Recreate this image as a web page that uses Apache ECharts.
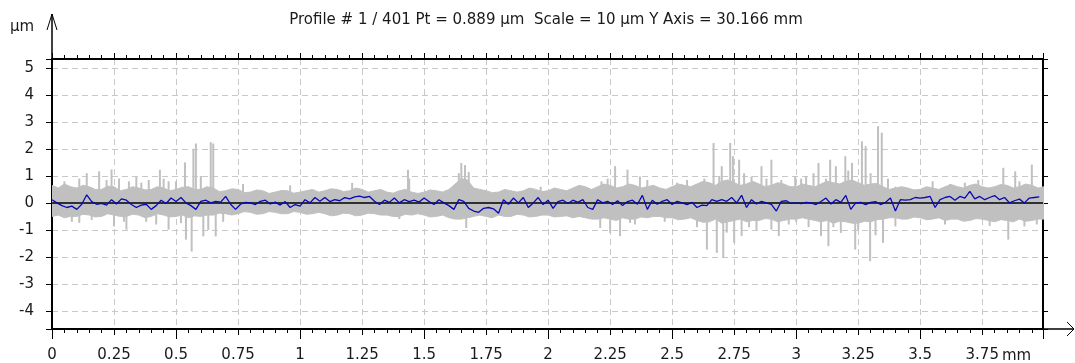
<!DOCTYPE html>
<html><head><meta charset="utf-8">
<script src="https://cdn.jsdelivr.net/npm/echarts@6/dist/echarts.min.js"></script>
<style>html,body{margin:0;padding:0;background:#fff}#c{width:1075px;height:363px}</style>
</head><body><div id="c"></div>
<script>
// ---------- texts ----------
const titleText = 'Profile # 1 / 401 Pt = 0.889 µm  Scale = 10 µm Y Axis = 30.166 mm';
const xUnit = 'mm';
const yUnit = 'µm';
// ---------- axes ----------
const xMin = 0, xMax = 3.995, xStep = 0.25;
const yMin = -4.67, yMax = 5.33;
const xTickLabels = ['0','0.25','0.5','0.75','1','1.25','1.5','1.75','2','2.25','2.5','2.75','3','3.25','3.5','3.75'];
const yTickLabels = ['-4','-3','-2','-1','0','1','2','3','4','5'];
// ---------- grey band of all 401 profiles (envelope, every 0.025 mm) ----------
const bandStep = 0.025;
const bandUpper = [
  0.65,0.55,0.7,0.6,0.55,0.65,0.6,0.5,
  0.5,0.62,0.6,0.45,0.5,0.6,0.55,0.48,
  0.5,0.6,0.55,0.45,0.5,0.58,0.6,0.5,
  0.5,0.6,0.55,0.42,0.45,0.52,0.5,0.38,
  0.4,0.48,0.45,0.35,0.4,0.46,0.45,0.36,
  0.4,0.45,0.5,0.4,0.45,0.52,0.5,0.42,
  0.45,0.55,0.5,0.4,0.45,0.5,0.4,0.36,
  0.45,0.5,0.4,0.35,0.4,0.48,0.45,0.4,
  0.5,0.7,0.9,0.85,0.55,0.5,0.45,0.38,
  0.4,0.5,0.45,0.4,0.45,0.55,0.5,0.42,
  0.45,0.55,0.5,0.45,0.55,0.65,0.6,0.5,
  0.6,0.7,0.65,0.55,0.6,0.7,0.65,0.55,
  0.6,0.65,0.55,0.5,0.6,0.7,0.65,0.6,
  0.7,0.8,0.75,0.65,0.8,0.85,0.75,0.65,
  0.7,0.8,0.7,0.6,0.65,0.75,0.7,0.6,
  0.6,0.7,0.65,0.6,0.7,0.8,0.75,0.7,
  0.8,0.85,0.75,0.65,0.7,0.72,0.6,0.5,
  0.55,0.6,0.55,0.48,0.5,0.6,0.55,0.5,
  0.6,0.68,0.6,0.55,0.65,0.7,0.6,0.55,
  0.6,0.68,0.65,0.55,0.6,0.7,0.65,0.55,
  0.6];
const bandLower = [
  -0.5,-0.45,-0.55,-0.5,-0.5,-0.42,-0.45,-0.52,
  -0.5,-0.4,-0.45,-0.5,-0.5,-0.42,-0.45,-0.55,
  -0.5,-0.4,-0.45,-0.52,-0.5,-0.45,-0.55,-0.48,
  -0.5,-0.45,-0.45,-0.38,-0.4,-0.45,-0.4,-0.32,
  -0.35,-0.42,-0.4,-0.32,-0.35,-0.4,-0.4,-0.32,
  -0.35,-0.42,-0.4,-0.35,-0.4,-0.48,-0.45,-0.38,
  -0.4,-0.48,-0.45,-0.38,-0.4,-0.45,-0.45,-0.5,
  -0.5,-0.42,-0.45,-0.4,-0.45,-0.52,-0.5,-0.45,
  -0.55,-0.6,-0.6,-0.55,-0.5,-0.45,-0.5,-0.55,
  -0.45,-0.5,-0.5,-0.42,-0.45,-0.52,-0.5,-0.45,
  -0.45,-0.52,-0.5,-0.48,-0.55,-0.5,-0.55,-0.6,
  -0.6,-0.55,-0.6,-0.65,-0.55,-0.6,-0.6,-0.52,
  -0.55,-0.5,-0.5,-0.55,-0.55,-0.62,-0.6,-0.55,
  -0.65,-0.72,-0.7,-0.6,-0.75,-0.7,-0.65,-0.6,
  -0.7,-0.65,-0.65,-0.58,-0.6,-0.7,-0.65,-0.6,
  -0.6,-0.55,-0.6,-0.65,-0.7,-0.65,-0.75,-0.68,
  -0.7,-0.75,-0.75,-0.68,-0.7,-0.62,-0.6,-0.55,
  -0.55,-0.6,-0.6,-0.52,-0.55,-0.62,-0.6,-0.55,
  -0.65,-0.6,-0.6,-0.68,-0.65,-0.58,-0.6,-0.65,
  -0.7,-0.62,-0.65,-0.7,-0.6,-0.68,-0.65,-0.6,
  -0.6];
// ---------- grey spikes (x in mm, height in µm) ----------
const spikeX = [0.11,0.11,0.14,0.16,0.19,0.24,0.25,0.27,0.30,0.31,0.34,0.38,0.39,0.435,0.47,0.47,0.50,0.536,0.54,0.563,
  0.57,0.58,0.61,0.63,0.64,0.65,0.66,0.77,0.96,1.21,1.40,1.435,1.44,1.64,1.65,1.665,1.67,1.68,1.97,2.21,
  2.215,2.25,2.27,2.29,2.32,2.33,2.37,2.43,2.47,2.55,2.56,2.63,2.64,2.667,2.68,2.70,2.706,2.734,2.745,2.75,
  2.77,2.78,2.82,2.84,2.86,2.90,2.90,2.93,2.94,2.996,3.0,3.04,3.05,3.09,3.10,3.13,3.137,3.16,3.18,3.198,
  3.225,3.238,3.265,3.28,3.298,3.33,3.345,3.35,3.40,3.40,3.60,3.62,3.734,3.835,3.855,3.883,3.92,3.95];
const spikeY = [0.9,-0.74,1.1,-0.63,1.17,1.24,-0.87,0.9,-0.99,0.8,0.96,-0.7,0.85,1.23,0.8,-0.99,0.8,1.5,-1.36,-1.8,
  2.0,2.2,-1.24,-1.0,2.25,2.2,-1.24,0.7,0.65,0.74,-0.6,1.23,0.9,1.1,1.48,1.4,-0.93,1.15,0.6,-0.93,
  0.8,-1.11,1.36,-1.23,1.23,-0.74,0.98,0.6,-0.7,-0.6,0.85,0.9,-1.73,2.22,-1.85,1.36,-2.04,2.22,1.73,-1.48,
  1.6,-1.23,0.98,-1.0,1.36,1.6,-0.99,-1.23,0.85,0.98,-0.7,1.0,-0.9,1.48,-1.23,-1.6,1.6,1.36,-1.11,1.73,
  1.48,-1.73,2.28,2.1,-2.16,2.84,2.6,-1.48,0.6,-0.87,-0.8,0.7,0.85,1.3,-1.36,1.17,-0.87,1.42];
// smaller spikes poking out of the band
const minorSpikeX = [0.05,0.08,0.22,0.29,0.36,0.42,0.45,0.52,0.60,0.69,2.24,2.35,2.40,2.52,2.60,2.69,2.72,2.79,2.81,2.88,
  2.97,3.02,3.07,3.12,3.15,3.21,3.25,3.30,3.32,3.37,3.55,3.68,3.78,3.90,3.97];
const minorSpikeY = [0.8,-0.7,0.85,-0.7,0.75,-0.8,0.9,-0.75,1.0,-0.7,0.9,-0.8,0.85,0.75,-0.9,1.0,-1.1,1.1,-0.9,0.9,
  -0.8,0.9,1.1,0.9,-0.9,1.2,-1.0,1.1,-1.2,0.9,0.8,0.75,-0.85,0.8,-0.8];
// ---------- profile #1 (blue), every 0.02 mm ----------
const profileStep = 0.02;
const profile1 = [
  0.12,0.0,-0.1,-0.17,-0.12,  -0.24,-0.05,0.3,0.05,-0.05,  -0.02,-0.08,0.12,-0.04,0.15,  0.1,-0.06,-0.17,-0.08,-0.05,
  -0.24,-0.1,0.1,-0.02,0.18,  0.05,0.2,0.0,-0.1,-0.24,  0.06,0.1,0.0,0.06,0.03,  0.24,-0.05,-0.24,-0.05,0.02,
  0.0,-0.06,0.06,0.1,-0.04,  0.03,-0.08,0.05,-0.17,-0.06,  -0.12,0.12,0.0,0.2,0.06,  0.2,0.05,0.12,0.08,0.2,
  0.15,0.22,0.25,0.2,0.24,  0.06,-0.06,0.1,0.02,0.18,  0.0,0.12,0.05,0.1,0.03,  0.18,0.05,-0.06,0.12,0.0,
  -0.1,-0.24,0.12,0.06,-0.2,  -0.3,-0.35,-0.2,-0.17,-0.22,  -0.38,0.12,-0.05,0.18,0.0,  0.2,-0.17,0.0,0.2,-0.06,
  0.1,-0.2,0.05,0.1,-0.02,  0.1,0.02,0.12,-0.17,-0.24,  0.12,0.0,0.06,-0.06,0.08,  -0.1,0.05,0.1,-0.05,0.28,
  -0.24,0.1,-0.05,0.06,0.12,  -0.06,0.06,0.0,-0.06,0.02,  -0.17,-0.08,-0.1,0.12,0.06,  0.12,0.06,0.2,0.0,0.28,
  -0.17,0.12,-0.04,0.06,0.0,  -0.05,-0.3,0.06,0.08,-0.02,  0.0,-0.03,0.02,0.0,-0.06,  0.05,0.18,-0.04,0.12,0.02,
  0.28,-0.24,0.0,0.02,-0.06,  0.02,0.05,-0.06,0.02,0.18,  -0.3,0.12,0.1,0.12,0.2,  0.18,0.2,0.24,-0.17,0.12,
  0.2,0.24,0.1,0.24,0.18,  0.43,0.15,0.24,0.12,0.2,  0.27,0.12,0.2,0.0,0.08,  0.14,0.0,0.18,0.2,0.22];

// ---------- build ----------
const FONT = 'DejaVu Sans';
const TXT = '#1a1a1a';
const GREY = '#c0c0c0';
const pairs = (arr, step) => arr.map((v, i) => [+(i * step).toFixed(3), v]);
const zip = (xs, ys) => xs.map((x, i) => [x, ys[i]]);
const chart = echarts.init(document.getElementById('c'), null, {renderer: 'canvas'});
chart.setOption({
  animation: false,
  backgroundColor: '#fff',
  grid: {left: 52, right: 32, top: 59, bottom: 34, containLabel: false},
  xAxis: [
    { type: 'value', position: 'bottom', min: xMin, max: xMax, interval: xStep,
      axisLine: {show: true, onZero: false, lineStyle: {color: '#000', width: 2}},
      axisTick: {show: true, length: 6, lineStyle: {color: '#000', width: 1}},
      minorTick: {show: true, splitNumber: 5, length: 4, lineStyle: {color: '#000', width: 1}},
      splitLine: {show: true, lineStyle: {color: '#c8c8c8', type: [6, 4], width: 1}},
      axisLabel: {margin: 19, color: TXT, fontFamily: FONT, fontSize: 15,
        formatter: v => { const k = Math.round(v / xStep); return Math.abs(v - k * xStep) < 1e-6 && xTickLabels[k] !== undefined ? xTickLabels[k] : ''; }}
    },
    { type: 'value', position: 'top', min: xMin, max: xMax, interval: xStep,
      axisLine: {show: true, onZero: false, lineStyle: {color: '#000', width: 2}},
      axisTick: {show: true, length: 6, lineStyle: {color: '#000', width: 1}},
      minorTick: {show: true, splitNumber: 5, length: 4, lineStyle: {color: '#000', width: 1}},
      splitLine: {show: false}, axisLabel: {show: false}
    },
    { type: 'value', position: 'bottom', min: xMin, max: xMax, interval: 0.5,
      axisLine: {show: false, onZero: false},
      axisTick: {show: true, length: 10, lineStyle: {color: '#000', width: 1}},
      splitLine: {show: false}, axisLabel: {show: false}
    }
  ],
  yAxis: [
    { type: 'value', position: 'left', min: yMin, max: yMax, splitNumber: 10,
      axisLine: {show: true, onZero: false, lineStyle: {color: '#000', width: 2}},
      axisTick: {show: true, length: 6, lineStyle: {color: '#000', width: 1}},
      splitLine: {show: true, lineStyle: {color: '#c8c8c8', type: [6, 4], width: 1}},
      axisLabel: {margin: 18, color: TXT, fontFamily: FONT, fontSize: 15,
        formatter: v => { const k = Math.round(v); return Math.abs(v - k) < 1e-6 && yTickLabels.indexOf(String(k)) >= 0 ? String(k) : ''; }}
    },
    { type: 'value', position: 'right', min: yMin, max: yMax, splitNumber: 10,
      axisLine: {show: true, onZero: false, lineStyle: {color: '#000', width: 2}},
      axisTick: {show: true, length: 5, lineStyle: {color: '#000', width: 1}},
      splitLine: {show: false}, axisLabel: {show: false}
    }
  ],
  series: [
    { name: 'band upper', type: 'line', data: pairs(bandUpper, bandStep),
      symbol: 'none', lineStyle: {color: GREY, width: 1}, areaStyle: {color: GREY, opacity: 1, origin: 'auto'}, silent: true },
    { name: 'band lower', type: 'line', data: pairs(bandLower, bandStep),
      symbol: 'none', lineStyle: {color: GREY, width: 1}, areaStyle: {color: GREY, opacity: 1, origin: 'auto'}, silent: true },
    { name: 'spikes', type: 'bar', barWidth: 2, barGap: '-100%',
      data: zip(spikeX, spikeY), itemStyle: {color: GREY}, silent: true },
    { name: 'minor spikes', type: 'bar', barWidth: 2, barGap: '-100%',
      data: zip(minorSpikeX, minorSpikeY), itemStyle: {color: GREY}, silent: true },
    { name: 'zero', type: 'line', data: [[xMin, 0], [xMax, 0]],
      symbol: 'none', lineStyle: {color: '#000', width: 1.5}, silent: true },
    { name: 'Profile 1', type: 'line', data: pairs(profile1, profileStep),
      symbol: 'none', lineStyle: {color: '#0808b8', width: 1.3}, silent: true }
  ],
  graphic: [
    { type: 'text', x: 546, y: 20, style: {text: titleText, fill: TXT, font: '15px "DejaVu Sans"', textAlign: 'center', textVerticalAlign: 'middle'} },
    { type: 'text', x: 22, y: 27, style: {text: yUnit, fill: TXT, font: '15px "DejaVu Sans"', textAlign: 'center', textVerticalAlign: 'middle'} },
    { type: 'text', x: 1002, y: 356, style: {text: xUnit, fill: TXT, font: '15px "DejaVu Sans"', textAlign: 'left', textVerticalAlign: 'middle'} },
    { type: 'line', shape: {x1: 52, y1: 59, x2: 52, y2: 14}, style: {stroke: '#000', lineWidth: 1.5} },
    { type: 'polyline', shape: {points: [[47, 30], [52, 14], [57, 30]]}, style: {stroke: '#000', lineWidth: 1, fill: null} },
    { type: 'line', shape: {x1: 1043, y1: 329, x2: 1074, y2: 329}, style: {stroke: '#000', lineWidth: 1.5} },
    { type: 'polyline', shape: {points: [[1067, 322], [1074, 329], [1067, 336]]}, style: {stroke: '#000', lineWidth: 1, fill: null} }
  ]
});
</script>
</body></html>
